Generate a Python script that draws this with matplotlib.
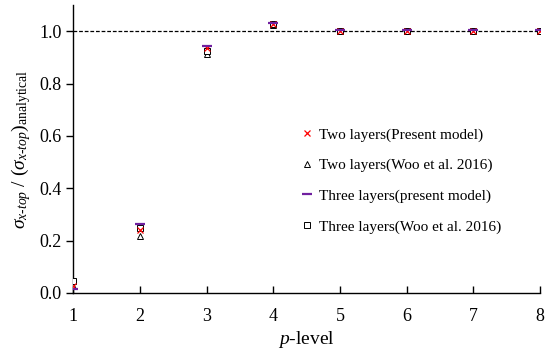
import matplotlib
matplotlib.use("Agg")
import matplotlib.pyplot as plt

p_level = [1, 2, 3, 4, 5, 6, 7, 8]
two_present = [0.027, 0.240, 0.937, 1.027, 1.002, 1.002, 1.002, 1.002]
two_woo = [0.025, 0.218, 0.912, 1.025, 1.000, 1.000, 1.000, 1.000]
three_present = [0.015, 0.262, 0.942, 1.030, 1.003, 1.003, 1.003, 1.003]
three_woo = [0.046, 0.250, 0.925, 1.027, 1.001, 1.001, 1.001, 1.001]

labels = ["Two layers(Present model)", "Two layers(Woo et al. 2016)",
          "Three layers(present model)", "Three layers(Woo et al. 2016)"]

plt.rcParams['font.family'] = ['Liberation Serif', 'DejaVu Serif']
plt.rcParams['mathtext.fontset'] = 'custom'
plt.rcParams['mathtext.rm'] = 'Liberation Serif'
plt.rcParams['mathtext.it'] = 'Liberation Serif:italic'

fig = plt.figure(figsize=(5.5, 3.53), dpi=100)
ax = fig.add_axes([0.133, 0.17, 0.849, 0.816])

ax.axhline(1.0, color='black', linestyle=(0, (3, 1.5)), linewidth=0.9, zorder=1)

ax.plot(p_level, two_present, linestyle='none', marker='x', color='red',
        markersize=4.5, markeredgewidth=0.9, label=labels[0], zorder=4)
ax.plot(p_level, two_woo, linestyle='none', marker='^', markerfacecolor='white',
        markeredgecolor='black', markersize=4, markeredgewidth=0.7, label=labels[1], zorder=3)
ax.plot(p_level, three_present, linestyle='none', marker='_', color='#7020a0',
        markersize=7, markeredgewidth=1.6, label=labels[2], zorder=5)
ax.plot(p_level, three_woo, linestyle='none', marker='s', markerfacecolor='white',
        markeredgecolor='black', markersize=4, markeredgewidth=0.7, label=labels[3], zorder=3)

ax.set_xlim(1, 8)
ax.set_ylim(0, 1.1)
ax.set_xticks(p_level)
ax.set_yticks([0.0, 0.2, 0.4, 0.6, 0.8, 1.0])
ax.set_yticklabels(['0.0', '0.2', '0.4', '0.6', '0.8', '1.0'])
ax.tick_params(axis='x', direction='in', length=5, width=1, labelsize=13, pad=11)
ax.tick_params(axis='y', direction='out', length=5, width=1, labelsize=13)

for s in ['top', 'right']:
    ax.spines[s].set_visible(False)
for s in ['left', 'bottom']:
    ax.spines[s].set_linewidth(1)

ax.set_xlabel(r'$p$-level', fontsize=14, labelpad=3)
ax.set_ylabel(r'$\sigma_{x\text{-}top}$ / $(\sigma_{x\text{-}top})_{\mathrm{analytical}}$', fontsize=14, labelpad=4)

leg = ax.legend(loc='upper left', bbox_to_anchor=(0.477, 0.595), frameon=False,
                fontsize=11, handlelength=0.6, handletextpad=0.5,
                labelspacing=1.1, borderaxespad=0)

fig.savefig('out.png', dpi=100)
